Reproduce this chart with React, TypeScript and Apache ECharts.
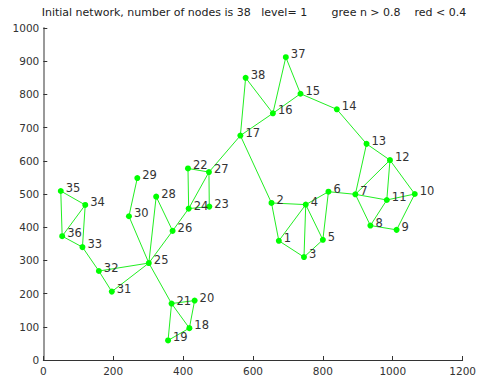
import React, { useEffect, useRef } from "react";
import * as echarts from "echarts";

const titleText =
  "Initial network, number of nodes is 38   level= 1       gree n > 0.8    red < 0.4";

const nodeIds = [
  "1", "2", "3", "4", "5", "6", "7", "8", "9", "10",
  "11", "12", "13", "14", "15", "16", "17", "18", "19", "20",
  "21", "22", "23", "24", "25", "26", "27", "28", "29", "30",
  "31", "32", "33", "34", "35", "36", "37", "38",
];
const nodeX = [
  674, 653, 746, 751, 800, 816, 893, 936, 1011, 1063,
  983, 992, 925, 840, 736, 657, 564, 418, 357, 433,
  367, 414, 475, 416, 302, 370, 474, 323, 269, 245,
  196, 159, 112, 120, 50, 54, 694, 579,
];
const nodeY = [
  359, 473, 310, 468, 362, 507, 499, 405, 392, 500,
  482, 602, 651, 755, 802, 743, 676, 96, 59, 179,
  170, 577, 462, 456, 292, 389, 566, 492, 548, 433,
  206, 268, 340, 467, 509, 373, 912, 850,
];

const edgeFrom = [
  35, 35, 34, 34, 36, 33, 32, 32, 31, 25, 30, 25, 28, 25, 26, 24, 24, 22, 27, 24,
  25, 21, 21, 21, 20, 19, 27, 17, 17, 17, 38, 16, 16, 37, 15, 14, 13, 13, 12, 12,
  12, 7, 7, 11, 11, 8, 9, 6, 6, 6, 2, 2, 1, 1, 4, 4, 3,
];
const edgeTo = [
  34, 36, 36, 33, 33, 32, 31, 25, 25, 30, 29, 28, 26, 26, 24, 22, 27, 27, 23, 23,
  21, 20, 18, 19, 18, 18, 17, 38, 16, 2, 16, 37, 15, 15, 14, 13, 12, 7, 7, 11,
  10, 11, 8, 10, 8, 9, 10, 7, 4, 5, 4, 1, 4, 3, 3, 5, 5,
];

const xTicks = { min: 0, max: 1200, interval: 200 };
const yTicks = { min: 0, max: 1000, interval: 100 };

export default function App() {
  const ref = useRef<HTMLDivElement>(null);
  useEffect(() => {
    if (!ref.current) return;
    const chart = echarts.init(ref.current, undefined, { renderer: "svg" });
    const font = "'DejaVu Sans', sans-serif";
    const data = nodeIds.map((id, i) => ({ name: id, value: [nodeX[i], nodeY[i]] }));
    const links = edgeFrom.map((f, i) => ({ source: String(f), target: String(edgeTo[i]) }));
    chart.setOption({
      animation: false,
      backgroundColor: "#ffffff",
      title: {
        text: titleText,
        left: 254,
        top: 7,
        padding: 0,
        textAlign: "center",
        textStyle: { fontFamily: font, fontSize: 11, fontWeight: "normal", color: "#222" },
      },
      grid: { left: 43.3, right: 14, top: 28, bottom: 22 },
      xAxis: {
        type: "value",
        min: xTicks.min,
        max: xTicks.max,
        interval: xTicks.interval,
        splitLine: { show: false },
        axisLine: { onZero: false, lineStyle: { color: "#333", width: 1 } },
        axisTick: { inside: true, length: 4, lineStyle: { color: "#333" } },
        axisLabel: {
          fontFamily: font,
          fontSize: 10.5,
          color: "#333",
          margin: 5,
          formatter: (v: number) => String(v),
        },
      },
      yAxis: {
        type: "value",
        min: yTicks.min,
        max: yTicks.max,
        interval: yTicks.interval,
        splitLine: { show: false },
        axisLine: { onZero: false, lineStyle: { color: "#999", width: 2 } },
        axisTick: { inside: true, length: 4, lineStyle: { color: "#333" } },
        axisLabel: {
          fontFamily: font,
          fontSize: 10.5,
          color: "#333",
          margin: 4,
          formatter: (v: number) => String(v),
        },
      },
      series: [
        {
          type: "graph",
          coordinateSystem: "cartesian2d",
          layout: "none",
          symbol: "circle",
          symbolSize: 6,
          itemStyle: { color: "#00ff00" },
          lineStyle: { color: "#22ee22", width: 1, opacity: 1 },
          label: {
            show: true,
            position: "right",
            distance: 2,
            offset: [0, -3],
            formatter: "{b}",
            fontFamily: font,
            fontSize: 11.5,
            color: "#333",
          },
          emphasis: { disabled: true },
          data,
          links,
        },
      ],
    });
    return () => chart.dispose();
  }, []);
  return (
    <div
      ref={ref}
      style={{ position: "fixed", left: 0, top: 0, width: 479, height: 382 }}
    />
  );
}
